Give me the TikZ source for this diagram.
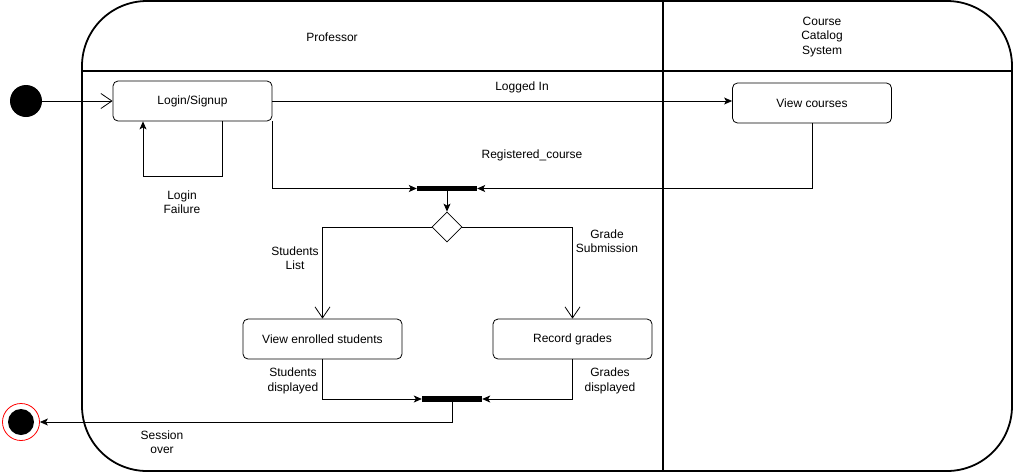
\documentclass[tikz,border=0pt]{standalone}
\usepackage{fontspec}
\setmainfont{Liberation Sans}
\usetikzlibrary{arrows.meta,shapes.geometric}
\begin{document}
\begin{tikzpicture}[x=1pt,y=-1pt,
  every node/.style={font=\fontsize{12}{14.4}\selectfont},
  action/.style={draw, rounded corners=5pt, minimum width=159pt, minimum height=40pt, inner sep=0pt, line width=0.8pt},
  bar/.style={fill=black, minimum width=60pt, minimum height=5.5pt, inner sep=0pt},
  choice/.style={diamond, draw, minimum width=30pt, minimum height=30pt, inner sep=0pt, line width=0.8pt},
  startdot/.style={circle, fill=black, minimum size=32pt, inner sep=0pt},
  enddot/.style={circle, draw=red, fill=white, line width=0.8pt, minimum size=37pt, inner sep=0pt,
    path picture={\fill[black] (path picture bounding box.center) circle (13pt);}},
  lbl/.style={align=center, inner sep=0pt},
  flow/.style={line width=0.8pt, -{Stealth[length=8pt,width=7pt,inset=2pt]}},
  openflow/.style={line width=0.8pt, -{Straight Barb[length=11pt,width=15pt]}},
  lane/.style={line width=1.8pt}
]
\useasboundingbox (0,0) rectangle (1013,472);

% swimlane frame
\draw[lane, rounded corners=65pt] (82,1) rectangle (1012,471);
\draw[lane] (82,71) -- (1012,71);
\draw[lane] (663,1) -- (663,471);
\node[lbl] (lanea) at (332,37) {Professor};
\node[lbl] (laneb) at (822,37) {Course\\Catalog\\System};

% nodes
\node[startdot] (init) at (26,101) {};
\node[action] (login) at (192.5,101) {Login/Signup};
\node[action] (view) at (812,103) {View courses};
\node[bar] (fork1) at (447,188.5) {};
\node[choice] (dec) at (447,227) {};
\node[action] (ves) at (322.5,339) {View enrolled students};
\node[action] (rg) at (572.5,339) {Record grades};
\node[bar] (fork2) at (452,399) {};
\node[enddot] (final) at (21,422) {};

% connectors
\draw[openflow] (init) -- (login.west);
\draw[flow] ([xshift=29.5pt]login.south) -- ++(0,55) -| ([xshift=-49.5pt]login.south);
\draw[flow] (login.east) -- (login.east -| view.west);
\draw[flow] (login.south east) |- (fork1.west);
\draw[flow] (view.south) |- (fork1.east);
\draw[flow] (fork1.south) -- (dec.north);
\draw[openflow] (dec.west) -| (ves.north);
\draw[openflow] (dec.east) -| (rg.north);
\draw[flow] (ves.south) |- (fork2.west);
\draw[flow] (rg.south) |- (fork2.east);
\draw[flow] (fork2.south) |- (final.east);

% labels
\node[lbl] (l1) at (182,202) {Login\\Failure};
\node[lbl] (l2) at (522,87) {Logged In};
\node[lbl] (l3) at (532,155) {Registered\_course};
\node[lbl] (l4) at (295,258) {Students\\List};
\node[lbl] (l5) at (607,241) {Grade\\Submission};
\node[lbl] (l6) at (293,381) {Students\\displayed};
\node[lbl] (l7) at (610,381) {Grades\\displayed};
\node[lbl] (l8) at (162,442) {Session\\over};
\end{tikzpicture}
\end{document}
